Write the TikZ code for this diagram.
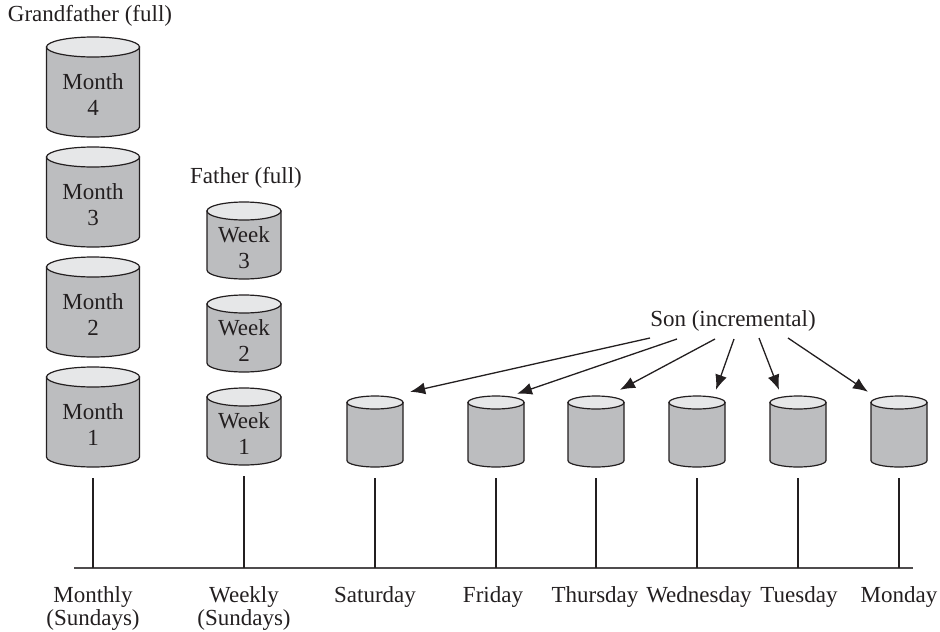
\documentclass[tikz,border=0pt]{standalone}
\usepackage{fontspec}
\setmainfont{Liberation Serif}
\usetikzlibrary{arrows.meta,calc}
\definecolor{side}{HTML}{BCBDBF}
\definecolor{topc}{HTML}{E6E7E8}
\definecolor{ink}{HTML}{231F20}
\tikzset{
  drumline/.style={draw=ink, line width=1.2pt},
  lbl/.style={font=\fontsize{23}{26}\selectfont, text=ink, inner sep=0pt},
  botlbl/.style={font=\fontsize{23}{23}\selectfont, text=ink, inner sep=0pt, anchor=north, align=center},
  tick/.style={draw=ink, line width=1.1pt},
  axis/.style={draw=ink!80, line width=1.8pt},
  arr/.style={draw=ink, line width=1.3pt, -{Latex[length=15pt,width=12pt]}}
}
% #1 name, #2 centre x, #3 top y, #4 width, #5 height, #6 end radius, #7 text y, #8 text
\newcommand\drum[8]{%
  \pgfmathsetlengthmacro\drumrx{#4/2}%
  \pgfmathsetlengthmacro\drumry{#6}%
  \filldraw[drumline, fill=side] ({#2-#4/2},{-#3-#6}) -- ({#2-#4/2},{-#3-#5+#6})
     arc[start angle=180, end angle=360, x radius=\drumrx, y radius=\drumry]
     -- ({#2+#4/2},{-#3-#6}) -- cycle;
  \filldraw[drumline, fill=topc] (#2,{-#3-#6}) ellipse[x radius=\drumrx, y radius=\drumry];
  \node[inner sep=0pt, minimum width=#4pt, minimum height=#5pt] (#1) at (#2,{-#3-#5/2}) {};
  \node[lbl, align=center] (#1t) at (#2,{-#7}) {#8};
}
\begin{document}
\begin{tikzpicture}[x=1pt,y=1pt]
\useasboundingbox (0,0) rectangle (940,-632);
% titles
\node[lbl] (gf) at (90,-16) {Grandfather (full)};
\node[lbl] (fa) at (246,-178) {Father (full)};
\node[lbl] (son) at (733,-321) {Son (incremental)};
% monthly
\drum{m4}{93}{37}{93}{100}{10}{95}{Month\\4}
\drum{m3}{93}{147}{93}{100}{10}{205}{Month\\3}
\drum{m2}{93}{257}{93}{100}{10}{315}{Month\\2}
\drum{m1}{93}{367}{93}{100}{10}{425}{Month\\1}
% weekly
\drum{w3}{244}{202}{74}{77}{9}{248}{Week\\3}
\drum{w2}{244}{295}{74}{77}{9}{341}{Week\\2}
\drum{w1}{244}{388}{74}{77}{9}{434}{Week\\1}
% daily
\drum{sat}{375}{396}{56}{71}{6.5}{431}{}
\drum{fri}{496}{396}{56}{71}{6.5}{431}{}
\drum{thu}{596}{396}{56}{71}{6.5}{431}{}
\drum{wed}{697}{396}{56}{71}{6.5}{431}{}
\drum{tue}{798}{396}{56}{71}{6.5}{431}{}
\drum{mon}{899}{396}{56}{71}{6.5}{431}{}
% axis
\coordinate (axL) at (74,-568);
\coordinate (axR) at (913,-568);
\draw[axis] (axL) -- (axR);
\foreach \n in {m1,w1,sat,fri,thu,wed,tue,mon}{
  \draw[tick] ([yshift=-11pt]\n.south) -- (\n.south |- axL);
}
% bottom labels
\node[botlbl] (lm) at (93,-586) {Monthly\\(Sundays)};
\node[botlbl] (lw) at (244,-586) {Weekly\\(Sundays)};
\node[botlbl] (lsat) at (375,-586) {Saturday};
\node[botlbl] (lfri) at (493,-586) {Friday};
\node[botlbl] (lthu) at (595,-586) {Thursday};
\node[botlbl] (lwed) at (699,-586) {Wednesday};
\node[botlbl] (ltue) at (799,-586) {Tuesday};
\node[botlbl] (lmon) at (899,-586) {Monday};
% arrows from Son
\coordinate (s1) at ([shift={(-83,-17)}]son.center);
\coordinate (s2) at ([shift={(-56,-18)}]son.center);
\coordinate (s3) at ([shift={(-18,-18)}]son.center);
\coordinate (s4) at ([shift={(1,-18)}]son.center);
\coordinate (s5) at ([shift={(26,-17)}]son.center);
\coordinate (s6) at ([shift={(55,-17)}]son.center);
\draw[arr] (s1) -- ([shift={(7,4)}]sat.north east);
\draw[arr] (s2) -- ([shift={(21,2)}]fri.north);
\draw[arr] (s3) -- ([shift={(24,6)}]thu.north);
\draw[arr] (s4) -- ([shift={(19,6)}]wed.north);
\draw[arr] (s5) -- ([shift={(-19,6)}]tue.north);
\draw[arr] (s6) -- ([shift={(-31,4)}]mon.north);
\end{tikzpicture}
\end{document}
